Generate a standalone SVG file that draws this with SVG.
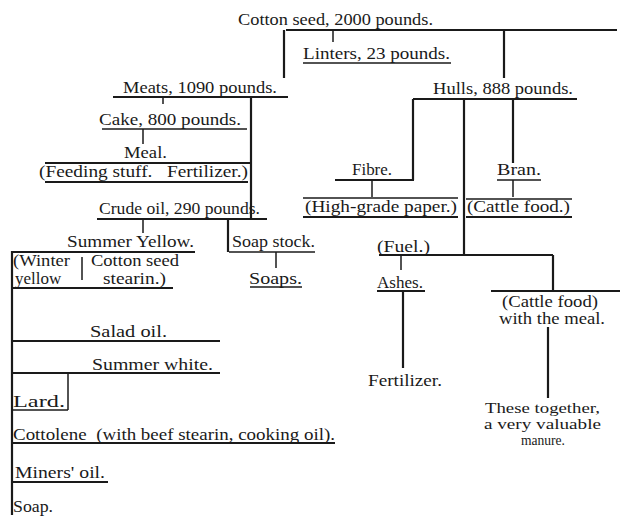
<svg xmlns="http://www.w3.org/2000/svg" width="624" height="516" viewBox="0 0 624 516">
<style>
text{font-family:"Liberation Serif","Times New Roman",serif;font-size:17px;fill:#1a1a1a;white-space:pre}
.s{font-size:14px}
.m{font-size:16px}
.k{stroke:#1a1a1a;stroke-width:2.2;fill:none}
.n{stroke:#1a1a1a;stroke-width:1.5;fill:none}
</style>
<rect width="624" height="516" fill="#fff"/>
<g id="connectors">
<line class="k" x1="286" y1="30" x2="617" y2="30"/>
<line class="k" x1="284" y1="30" x2="284" y2="78"/>
<line class="n" x1="333" y1="30" x2="333" y2="42"/>
<line class="n" x1="303" y1="63" x2="451" y2="63"/>
<line class="k" x1="504" y1="30" x2="504" y2="78"/>
<line class="k" x1="113" y1="97" x2="288" y2="97"/>
<line class="n" x1="163" y1="97" x2="163" y2="104"/>
<line class="k" x1="251" y1="97" x2="251" y2="219"/>
<line class="n" x1="102" y1="129" x2="247" y2="129"/>
<line class="n" x1="143" y1="129" x2="143" y2="144"/>
<line class="k" x1="45" y1="163" x2="250" y2="163"/>
<line class="k" x1="45" y1="182" x2="248" y2="182"/>
<line class="k" x1="97" y1="219" x2="267" y2="219"/>
<line class="n" x1="143" y1="219" x2="143" y2="233"/>
<line class="k" x1="228" y1="219" x2="228" y2="252"/>
<line class="k" x1="12" y1="252" x2="195" y2="252"/>
<line class="n" x1="229" y1="252" x2="315" y2="252"/>
<line class="n" x1="276" y1="252" x2="276" y2="268"/>
<line class="n" x1="250" y1="287" x2="302" y2="287"/>
<line class="n" x1="82" y1="257" x2="82" y2="280"/>
<line class="k" x1="12" y1="288" x2="173" y2="288"/>
<line class="k" x1="12" y1="251" x2="12" y2="515"/>
<line class="k" x1="12" y1="341" x2="220" y2="341"/>
<line class="k" x1="12" y1="373" x2="220" y2="373"/>
<line class="n" x1="68" y1="373" x2="68" y2="410"/>
<line class="n" x1="12" y1="410" x2="68" y2="410"/>
<line class="k" x1="12" y1="443" x2="335" y2="443"/>
<line class="k" x1="12" y1="482" x2="108" y2="482"/>
<line class="k" x1="413" y1="99" x2="577" y2="99"/>
<line class="k" x1="413" y1="99" x2="413" y2="180"/>
<line class="k" x1="335" y1="180" x2="414" y2="180"/>
<line class="n" x1="372" y1="180" x2="372" y2="197"/>
<line class="n" x1="303" y1="198" x2="458" y2="198"/>
<line class="k" x1="303" y1="217" x2="458" y2="217"/>
<line class="k" x1="513" y1="99" x2="513" y2="163"/>
<line class="n" x1="497" y1="180" x2="541" y2="180"/>
<line class="n" x1="513" y1="180" x2="513" y2="197"/>
<line class="n" x1="466" y1="199" x2="572" y2="199"/>
<line class="k" x1="466" y1="217" x2="572" y2="217"/>
<line class="k" x1="464" y1="99" x2="464" y2="255"/>
<line class="k" x1="379" y1="255" x2="553" y2="255"/>
<line class="n" x1="401" y1="255" x2="401" y2="270"/>
<line class="k" x1="377" y1="291" x2="425" y2="291"/>
<line class="k" x1="403" y1="291" x2="403" y2="368"/>
<line class="k" x1="553" y1="255" x2="553" y2="291"/>
<line class="k" x1="491" y1="291" x2="620" y2="291"/>
<line class="k" x1="548" y1="327" x2="548" y2="398"/>
</g>
<g id="cotton-seed"><text x="238" y="25" textLength="195" lengthAdjust="spacingAndGlyphs">Cotton seed, 2000 pounds.</text></g>
<g id="linters"><text x="303" y="59" textLength="147" lengthAdjust="spacingAndGlyphs">Linters, 23 pounds.</text></g>
<g id="meats"><text x="123" y="93" textLength="154" lengthAdjust="spacingAndGlyphs">Meats, 1090 pounds.</text></g>
<g id="hulls"><text x="433" y="94" textLength="140" lengthAdjust="spacingAndGlyphs">Hulls, 888 pounds.</text></g>
<g id="cake"><text x="99" y="125" textLength="142" lengthAdjust="spacingAndGlyphs">Cake, 800 pounds.</text></g>
<g id="meal"><text x="124" y="158" textLength="43" lengthAdjust="spacingAndGlyphs">Meal.</text>
<text x="39" y="177" textLength="209" lengthAdjust="spacingAndGlyphs">(Feeding stuff.   Fertilizer.)</text></g>
<g id="crude-oil"><text x="99" y="214" textLength="161" lengthAdjust="spacingAndGlyphs">Crude oil, 290 pounds.</text></g>
<g id="fibre"><text x="352" y="175" textLength="40" lengthAdjust="spacingAndGlyphs">Fibre.</text></g>
<g id="paper"><text x="305" y="212" textLength="152" lengthAdjust="spacingAndGlyphs">(High-grade paper.)</text></g>
<g id="bran"><text x="497" y="175" textLength="44" lengthAdjust="spacingAndGlyphs">Bran.</text></g>
<g id="cattle-food-bran"><text x="467" y="212" textLength="103" lengthAdjust="spacingAndGlyphs">(Cattle food.)</text></g>
<g id="summer-yellow"><text x="67" y="247" textLength="127" lengthAdjust="spacingAndGlyphs">Summer Yellow.</text></g>
<g id="soap-stock"><text x="232" y="247" textLength="83" lengthAdjust="spacingAndGlyphs">Soap stock.</text></g>
<g id="soaps"><text x="249" y="284" textLength="53" lengthAdjust="spacingAndGlyphs">Soaps.</text></g>
<g id="winter-yellow"><text x="13" y="266" textLength="57" lengthAdjust="spacingAndGlyphs">(Winter</text>
<text x="15" y="284">yellow</text></g>
<g id="stearin"><text x="91" y="266" textLength="88" lengthAdjust="spacingAndGlyphs">Cotton seed</text>
<text x="103" y="284" textLength="63" lengthAdjust="spacingAndGlyphs">stearin.)</text></g>
<g id="salad-oil"><text x="90" y="337" textLength="77" lengthAdjust="spacingAndGlyphs">Salad oil.</text></g>
<g id="summer-white"><text x="92" y="370" textLength="121" lengthAdjust="spacingAndGlyphs">Summer white.</text></g>
<g id="lard"><text x="13" y="407" textLength="52" lengthAdjust="spacingAndGlyphs">Lard.</text></g>
<g id="cottolene"><text x="13" y="440" textLength="322" lengthAdjust="spacingAndGlyphs">Cottolene  (with beef stearin, cooking oil).</text></g>
<g id="miners-oil"><text x="15" y="478" textLength="90" lengthAdjust="spacingAndGlyphs">Miners' oil.</text></g>
<g id="soap"><text x="13" y="512" textLength="40" lengthAdjust="spacingAndGlyphs">Soap.</text></g>
<g id="fuel"><text x="377" y="252" textLength="53" lengthAdjust="spacingAndGlyphs">(Fuel.)</text></g>
<g id="ashes"><text x="377" y="288" textLength="46" lengthAdjust="spacingAndGlyphs">Ashes.</text></g>
<g id="fertilizer"><text x="368" y="386" textLength="74" lengthAdjust="spacingAndGlyphs">Fertilizer.</text></g>
<g id="cattle-food-meal"><text class="m" x="502" y="307" textLength="96" lengthAdjust="spacingAndGlyphs">(Cattle food)</text>
<text class="m" x="499" y="324" textLength="106" lengthAdjust="spacingAndGlyphs">with the meal.</text></g>
<g id="manure"><text class="s" x="485" y="413" textLength="115" lengthAdjust="spacingAndGlyphs">These together,</text>
<text class="s" x="484" y="429" textLength="117" lengthAdjust="spacingAndGlyphs">a very valuable</text>
<text class="s" x="521" y="445" textLength="44" lengthAdjust="spacingAndGlyphs">manure.</text></g>
</svg>
